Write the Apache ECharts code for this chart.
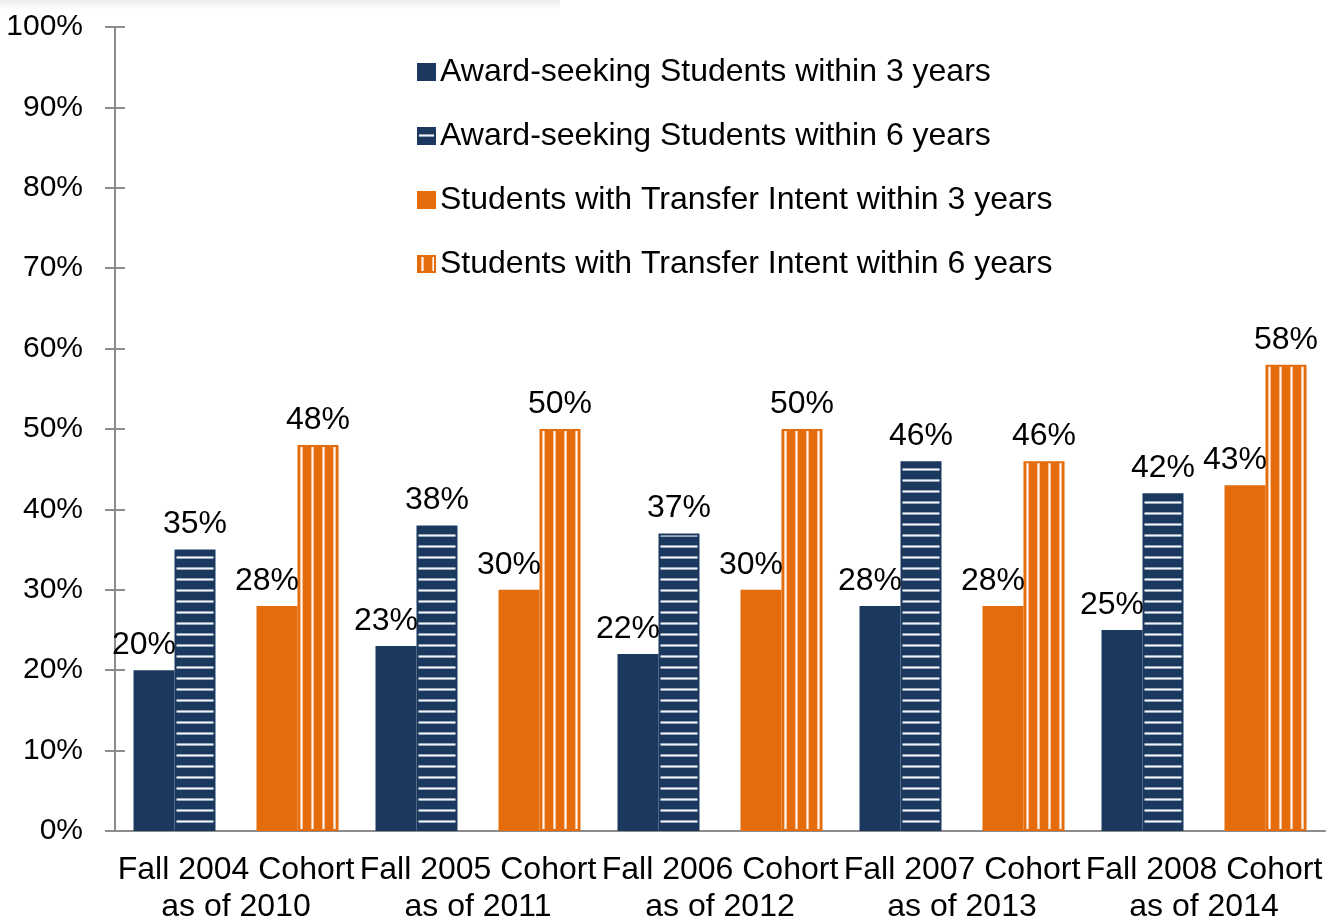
<!DOCTYPE html>
<html>
<head>
<meta charset="utf-8">
<style>
  html, body { margin: 0; padding: 0; background: #fff; }
  #chart { width: 1328px; height: 920px; }
</style>
<script src="https://cdn.jsdelivr.net/npm/echarts@6/dist/echarts.min.js"></script>
</head>
<body>
<div id="chart"></div>
<script>
const cohorts = [
  "Fall 2004 Cohort\nas of 2010",
  "Fall 2005 Cohort\nas of 2011",
  "Fall 2006 Cohort\nas of 2012",
  "Fall 2007 Cohort\nas of 2013",
  "Fall 2008 Cohort\nas of 2014",
];
const award3 = [20, 23, 22, 28, 25];
const award6 = [35, 38, 37, 46, 42];
const transfer3 = [28, 30, 30, 28, 43];
const transfer6 = [48, 50, 50, 46, 58];

const NAVY = "#1b385f";
const ORANGE = "#e46c0a";
const FONT = "'Liberation Sans', Arial, sans-serif";

// stripe tiles, 11px period to match the bar spacing
function stripes(base, edge, core, vertical) {
  const c = document.createElement("canvas");
  c.width = 11;
  c.height = 11;
  const ctx = c.getContext("2d");
  ctx.fillStyle = base;
  ctx.fillRect(0, 0, 11, 11);
  [edge, core, edge].forEach((col, i) => {
    ctx.fillStyle = col;
    if (vertical) ctx.fillRect(3 + i, 0, 1, 11);
    else ctx.fillRect(0, 6 + i, 11, 1);
  });
  return { image: c, repeat: "repeat" };
}

const label = (dx) => ({
  show: true,
  position: "top",
  distance: 9,
  offset: [dx, 0],
  formatter: "{c}%",
  fontSize: 32,
  fontFamily: FONT,
  color: "#000",
});

const bar = (name, data, fill, border, dx) => ({
  name,
  type: "bar",
  data,
  barWidth: 41,
  barGap: "0%",
  itemStyle: { color: fill, borderColor: border, borderWidth: 2 },
  label: label(dx),
  emphasis: { disabled: true },
});

const chart = echarts.init(document.getElementById("chart"));

const axisGray = { color: "#8c8c8c", width: 2 };

chart.setOption({
  animation: false,
  graphic: [{
    type: "rect",
    shape: { x: 0, y: 0, width: 560, height: 10 },
    style: {
      fill: new echarts.graphic.LinearGradient(0, 0, 0, 1, [
        { offset: 0, color: "rgba(0,0,0,0.07)" },
        { offset: 1, color: "rgba(0,0,0,0)" },
      ]),
    },
    silent: true,
  }],
  grid: {
    left: 115, top: 27, width: 1210, height: 804,
    containLabel: false, outerBoundsMode: "none",
  },
  legend: {
    orient: "vertical",
    left: 412,
    top: 51,
    itemWidth: 17,
    itemHeight: 16,
    itemGap: 32,
    icon: "rect",
    selectedMode: false,
    textStyle: { fontSize: 32, lineHeight: 32, fontFamily: FONT, color: "#000" },
    data: [
      "Award-seeking Students within 3 years",
      "Award-seeking Students within 6 years",
      "Students with Transfer Intent within 3 years",
      "Students with Transfer Intent within 6 years",
    ],
  },
  xAxis: [
    {
      type: "category",
      data: cohorts,
      axisLine: { lineStyle: axisGray },
      axisTick: { length: 9, lineStyle: axisGray },
      axisLabel: {
        fontSize: 32,
        lineHeight: 37,
        margin: 21,
        fontFamily: FONT,
        color: "#000",
        interval: 0,
      },
    },
    {
      type: "category",
      data: cohorts,
      position: "bottom",
      axisLine: { show: false },
      axisTick: { inside: true, length: 9, lineStyle: axisGray },
      axisLabel: { show: false },
    },
  ],
  yAxis: [
    {
      type: "value",
      min: 0,
      max: 100,
      interval: 10,
      axisLine: { show: true, lineStyle: axisGray },
      axisTick: { show: true, length: 10, lineStyle: axisGray },
      splitLine: { show: false },
      axisLabel: {
        formatter: "{value}%",
        fontSize: 30,
        margin: 32,
        fontFamily: FONT,
        color: "#000",
      },
    },
    {
      type: "value",
      min: 0,
      max: 100,
      interval: 10,
      position: "left",
      axisLine: { show: false },
      axisTick: { show: true, inside: true, length: 10, lineStyle: axisGray },
      splitLine: { show: false },
      axisLabel: { show: false },
    },
  ],
  series: [
    bar("Award-seeking Students within 3 years", award3, NAVY, NAVY, -10),
    bar("Award-seeking Students within 6 years", award6,
        stripes(NAVY, "#9aa8bd", "#f1f3f6", false), NAVY, 0),
    { name: "gap", type: "bar", data: cohorts.map(() => "-"), barWidth: 41, barGap: "0%" },
    bar("Students with Transfer Intent within 3 years", transfer3, ORANGE, ORANGE, -10),
    bar("Students with Transfer Intent within 6 years", transfer6,
        stripes(ORANGE, "#f5c29c", "#fff6ef", true), ORANGE, 0),
  ],
});

window.addEventListener("resize", () => chart.resize());
</script>
</body>
</html>
